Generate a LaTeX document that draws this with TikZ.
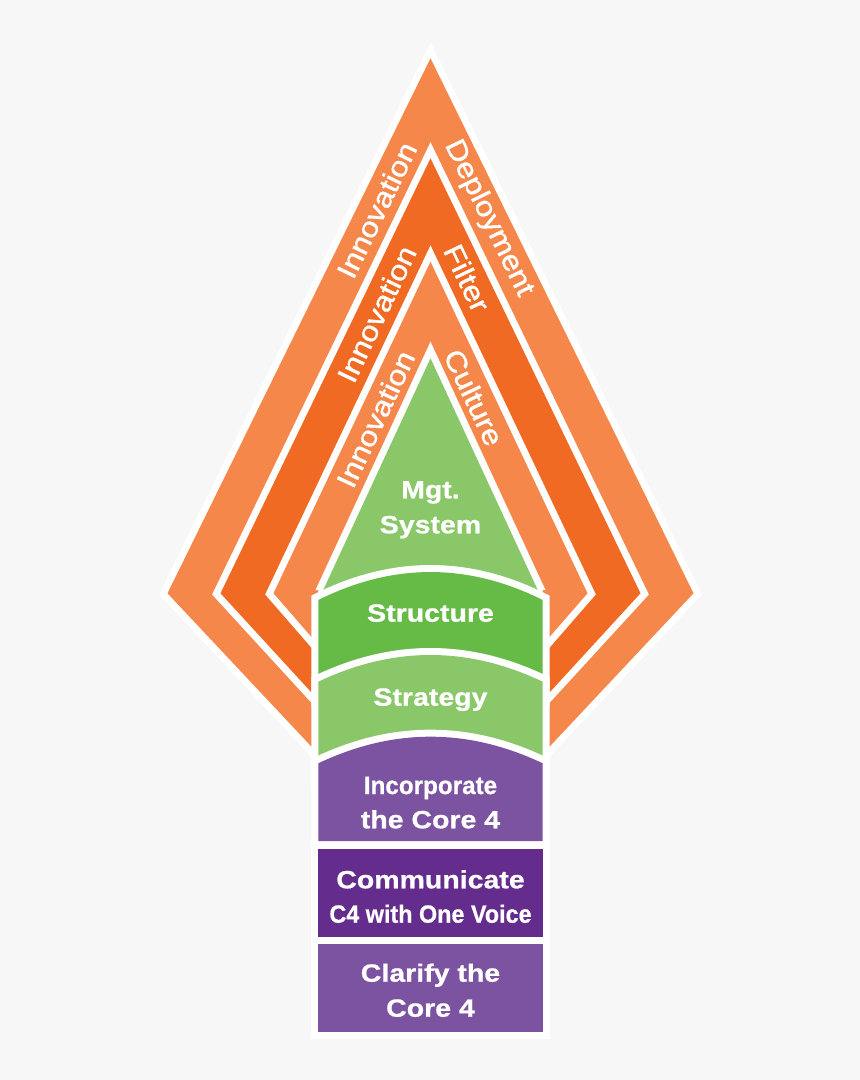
\documentclass[tikz,border=0pt]{standalone}
\usepackage{fontspec}
\usepackage{graphicx}
\setmainfont{Liberation Sans}
\newfontfamily\boldfont{Liberation Sans Bold}[FakeStretch=1.14, FakeBold=0.8]
\newfontfamily\rotfont{Liberation Sans}[FakeStretch=1.14, FakeBold=1.2]
\definecolor{bg}{RGB}{247,247,247}
\definecolor{orL}{RGB}{245,135,75}
\definecolor{orD}{RGB}{241,106,36}
\definecolor{grL}{RGB}{137,199,104}
\definecolor{grD}{RGB}{102,187,70}
\definecolor{puL}{RGB}{124,83,161}
\definecolor{puD}{RGB}{99,44,141}
\begin{document}
\begin{tikzpicture}[x=1pt,y=-1pt,
  shp/.style={fill=#1, preaction={draw=white, line width=14pt, line join=miter}},
  bold/.style={text=white, font=\boldfont\fontsize{25}{30}\selectfont, inner sep=0pt, anchor=base},
  rot/.style={text=white, font=\rotfont\fontsize{28}{30}\selectfont, inner sep=0pt}]
\fill[bg] (0,0) rectangle (860,1080);
\useasboundingbox (0,0) rectangle (860,1080);
% nested chevrons
\path[shp=orL] (430.5,58.3) -- (693.5,593.3) -- (430.5,873.4) -- (167.5,593.3) -- cycle;
\path[shp=orD] (430.5,158.3) -- (640.5,593.3) -- (430.5,822.2) -- (220.5,593.3) -- cycle;
\path[shp=orL] (430.5,261.7) -- (587.5,593.3) -- (430.5,773.9) -- (273.5,593.3) -- cycle;
\begin{scope}
\clip (0,0) -- (860,0) -- (860,590) -- (542.7,590) -- (542.7,700) -- (318.3,700) -- (318.3,590) -- (0,590) -- cycle;
\path[shp=grL] (430.5,358.3) -- (560.9,640) -- (300.1,640) -- cycle;
\end{scope}
% column
\path[shp=grD] (318.3,600) .. controls (393.1,562.7) and (467.9,562.7) .. (542.7,600) -- (542.7,700) -- (318.3,700) -- cycle;
\path[shp=grL] (318.3,681.7) .. controls (393.1,646.1) and (467.9,646.1) .. (542.7,681.7) -- (542.7,780) -- (318.3,780) -- cycle;
\path[shp=puL] (318.3,763.3) .. controls (393.1,727.8) and (467.9,727.8) .. (542.7,763.3) -- (542.7,841) -- (318.3,841) -- cycle;
\path[shp=puD] (318.3,849) rectangle (542.7,936.7);
\path[shp=puL] (318.3,944) rectangle (542.7,1031.7);
% labels
\node[bold] (mgt1) at (430.5,498.3) {Mgt.};
\node[bold] (mgt2) at (430.5,533.3) {System};
\node[bold] (str) at (430.5,621.7) {Structure};
\node[bold] (stg) at (430.5,705.7) {Strategy};
\node[bold] (inc1) at (430.5,794) {\scalebox{0.85}[1]{Incorporate}};
\node[bold] (inc2) at (430.5,828.3) {the Core 4};
\node[bold] (com1) at (430.5,888.3) {Communicate};
\node[bold] (com2) at (430.5,922.7) {\scalebox{0.82}[1]{C4 with One Voice}};
\node[bold] (cla1) at (430.5,981.7) {Clarify the};
\node[bold] (cla2) at (430.5,1016.7) {Core 4};
\node[rot, rotate=64] (in1) at (376.7,210) {Innovation};
\node[rot, rotate=-64] (dep) at (488.5,218.3) {Deployment};
\node[rot, rotate=64.5] (in2) at (376.6,314) {Innovation};
\node[rot, rotate=-64.5] (fil) at (467,278) {Filter};
\node[rot, rotate=64.8] (in3) at (375.5,419) {Innovation};
\node[rot, rotate=-64.8] (cul) at (474,397.5) {Culture};
\end{tikzpicture}
\end{document}
